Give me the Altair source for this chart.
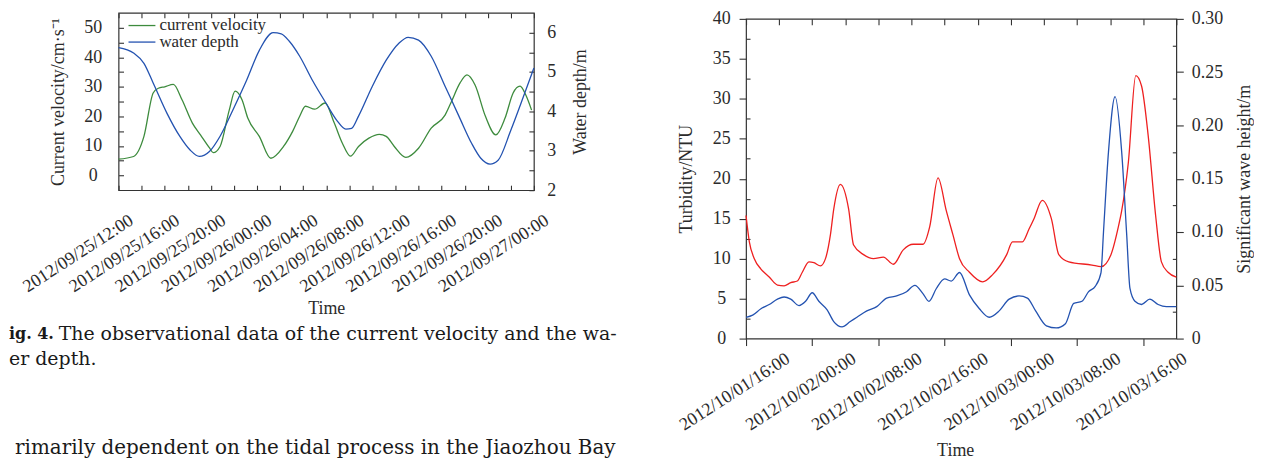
import altair as alt
import pandas as pd

# ---------------- data ----------------
# Left figure: hours after 2012/09/25 12:00
cv_hours = [0, 1.3, 2.2, 3.0, 3.45, 4.0, 4.75, 5.5, 6.4, 7.1, 7.9, 8.2, 8.8, 9.6, 10.1,
            10.7, 11.2, 12.2, 13.2, 14.3, 15.1, 15.7, 16.2, 17.0, 17.9, 18.7, 19.4, 20.1,
            20.8, 21.7, 22.6, 23.2, 23.9, 24.9, 26.0, 27.1, 28.3, 28.8, 29.6, 30.2, 30.9,
            31.8, 32.7, 33.5, 34.2, 34.8, 35.3, 35.8]
cv_values = [5.5, 6.4, 13.2, 27.9, 29.5, 30.0, 30.8, 25.6, 17.7, 13.7, 9.2, 7.7, 9.8,
             22.2, 28.5, 25.6, 19.4, 13.2, 5.8, 9.8, 15.0, 20.0, 23.4, 22.4, 24.5, 17.7,
             10.9, 6.5, 9.8, 12.6, 13.9, 13.2, 9.8, 6.1, 9.2, 16.0, 20.4, 24.5, 31.3,
             34.0, 30.6, 20.0, 13.7, 19.4, 27.9, 30.2, 27.2, 22.1]
wd_hours = [0, 1.3, 2.2, 3.0, 4.2, 5.3, 6.2, 7.0, 7.9, 8.8, 9.9, 11.1, 12.2, 13.4, 14.1,
            14.8, 15.7, 16.8, 18.0, 18.9, 19.7, 20.2, 20.8, 22.0, 23.2, 24.3, 25.1, 26.0,
            27.1, 28.3, 29.5, 30.6, 31.4, 32.2, 32.9, 34.0, 35.2, 36.0]
wd_values = [5.62, 5.48, 5.22, 4.72, 3.95, 3.37, 3.02, 2.86, 2.99, 3.37, 4.03, 4.79, 5.55,
             6.0, 5.97, 5.78, 5.4, 4.79, 4.2, 3.78, 3.55, 3.57, 3.88, 4.64, 5.3, 5.73, 5.88,
             5.81, 5.4, 4.64, 3.88, 3.19, 2.81, 2.66, 2.76, 3.52, 4.46, 5.1]

# Right figure: hours after 2012/10/01 16:00
turb_hours = [0, 0.4, 1.0, 1.8, 2.8, 3.8, 4.6, 5.4, 6.2, 6.8, 7.6, 8.2, 9.0, 9.6, 10.2,
              10.6, 11.4, 12.4, 13.0, 14.2, 15.4, 16.6, 17.8, 19.0, 20.2, 21.4, 22.2, 23.2,
              24.2, 25.0, 25.8, 27.0, 28.6, 29.8, 31.5, 32.2, 33.4, 34.2, 34.8, 35.8, 36.9,
              37.8, 39.0, 41.8, 42.9, 44.1, 45.0, 45.4, 46.2, 47.1, 47.8, 48.6, 49.5, 50.2,
              51.0, 52.0]
turb_values = [15.4, 12.1, 10.0, 8.7, 7.7, 6.7, 6.6, 7.0, 7.2, 8.3, 9.6, 9.5, 9.1, 10.0,
               13.0, 16.2, 19.3, 16.2, 11.7, 10.5, 10.0, 10.2, 9.3, 11.1, 11.8, 11.8, 14.0,
               20.1, 16.0, 13.0, 10.0, 8.3, 7.1, 8.0, 10.5, 12.1, 12.1, 13.7, 15.0, 17.3,
               15.0, 10.5, 9.6, 9.2, 9.0, 10.5, 14.0, 16.0, 22.0, 32.9, 31.6, 25.4, 15.4,
               9.6, 8.3, 7.7]
wave_hours = [0, 0.8, 1.8, 2.8, 3.8, 4.6, 5.4, 6.4, 7.2, 8.0, 8.8, 9.8, 10.6, 11.6, 12.6,
              13.4, 14.6, 15.8, 17.0, 18.2, 19.4, 20.4, 21.4, 22.1, 23.0, 24.0, 24.8, 25.8,
              27.0, 28.2, 29.4, 30.6, 31.8, 33.0, 34.0, 35.0, 36.3, 37.5, 38.6, 39.6, 40.6,
              41.4, 42.2, 42.9, 43.2, 43.8, 44.6, 45.4, 46.0, 46.4, 47.0, 47.8, 48.8, 49.8,
              50.8, 52.0]
wave_values = [0.020, 0.022, 0.028, 0.032, 0.037, 0.039, 0.037, 0.031, 0.035, 0.043, 0.035,
               0.027, 0.016, 0.011, 0.016, 0.020, 0.026, 0.030, 0.038, 0.040, 0.044, 0.050,
               0.042, 0.035, 0.047, 0.056, 0.054, 0.062, 0.041, 0.028, 0.020, 0.026, 0.037,
               0.040, 0.038, 0.026, 0.012, 0.010, 0.014, 0.033, 0.035, 0.044, 0.049, 0.062,
               0.100, 0.175, 0.227, 0.175, 0.098, 0.047, 0.035, 0.032, 0.037, 0.032, 0.030,
               0.030]

legend_labels = ["current velocity", "water depth"]
caption_bold = ["ig. 4."]
caption_line1 = ["The observational data of the current velocity and the wa-"]
caption_line2 = ["er depth."]
body_line = ["rimarily dependent on the tidal process in the Jiaozhou Bay"]

LEFT_START = "2012-09-25 12:00"
RIGHT_START = "2012-10-01 16:00"

# ---------------- helpers ----------------
def stamps(start, hours):
    s = pd.Timestamp(start)
    return [(s + pd.Timedelta(hours=h)).strftime("%Y-%m-%dT%H:%M:%S") for h in hours]


def dt(start, h):
    t = pd.Timestamp(start) + pd.Timedelta(hours=h)
    return alt.DateTime(year=t.year, month=t.month, date=t.day, hours=t.hour, minutes=t.minute)


def one(col, vals):
    return pd.DataFrame({col: vals})


SERIF = "Liberation Serif"
INK = "#2b2b2b"
FRAME = "#333333"
GREEN = "#3d8b3d"
BLUE = "#2352b0"
RED = "#ee2020"
FS = 18
LABEL_ANGLE = -33
TIN = 5  # inward tick length

cv_df = pd.DataFrame({"time": stamps(LEFT_START, cv_hours), "velocity": cv_values})
wd_df = pd.DataFrame({"time": stamps(LEFT_START, wd_hours), "depth": wd_values})
turb_df = pd.DataFrame({"time": stamps(RIGHT_START, turb_hours), "turbidity": turb_values})
wave_df = pd.DataFrame({"time": stamps(RIGHT_START, wave_hours), "wave": wave_values})

common_axis = dict(labelFont=SERIF, titleFont=SERIF, labelColor=INK, titleColor=INK,
                   labelFontSize=FS, titleFontSize=FS, titleFontWeight="normal",
                   domain=False, tickColor=FRAME, tickWidth=1.1, grid=False)
bare_axis = dict(labels=False, domain=False, grid=False, title=None,
                 tickColor=FRAME, tickWidth=1.1)
frame_view = alt.ViewBackground(stroke=FRAME, strokeWidth=1.2)

# ---------------- left figure ----------------
LW, LH = 417, 178
left_scale = alt.Scale(domain=[dt(LEFT_START, 0), dt(LEFT_START, 36)], nice=False)
left_vals = [dt(LEFT_START, h) for h in range(0, 37, 2)]

green = alt.Chart(cv_df).mark_line(color=GREEN, strokeWidth=1.3, interpolate="monotone").encode(
    x=alt.X("time:T", scale=left_scale, axis=alt.Axis(
        orient="bottom", values=left_vals,
        labelExpr="hours(datum.value) % 4 === 0 ? timeFormat(datum.value, '%Y/%m/%d/%H:%M') : ''",
        labelAngle=LABEL_ANGLE, labelAlign="right", labelBaseline="top",
        labelOffset=8, labelPadding=21, labelOverlap=False, labelFlush=False,
        offset=-TIN, ticks=True, tickSize=TIN,
        title="Time", titleX=LW / 2, titleY=119 + TIN, titleAlign="center", titleBaseline="middle",
        **common_axis)),
    y=alt.Y("velocity:Q", scale=alt.Scale(domain=[-5, 55], nice=False, zero=False), axis=alt.Axis(
        orient="left", values=list(range(0, 51, 5)),
        labelExpr="datum.value % 10 === 0 ? format(datum.value, 'd') : ''",
        offset=-TIN, ticks=True, tickSize=TIN,
        labelAlign="center", labelPadding=26,
        title="Current velocity/cm\u00b7s\u207b\u00b9", titleX=-60 - TIN, titleY=LH / 2,
        titleAngle=270, titleAlign="center", titleBaseline="middle",
        **common_axis)),
)

blue_left = alt.Chart(wd_df).mark_line(color=BLUE, strokeWidth=1.3, interpolate="monotone").encode(
    x=alt.X("time:T", scale=left_scale, axis=alt.Axis(
        orient="top", values=left_vals, offset=-TIN, ticks=True, tickSize=TIN, **bare_axis)),
    y=alt.Y("depth:Q", scale=alt.Scale(domain=[2, 6.5], nice=False, zero=False), axis=alt.Axis(
        orient="right", values=[2 + 0.5 * k for k in range(9)],
        labelExpr="datum.value % 1 === 0 ? format(datum.value, 'd') : ''",
        offset=-TIN, ticks=True, tickSize=TIN,
        labelAlign="left", labelPadding=13,
        title="Water depth/m", titleX=47 + TIN, titleY=LH / 2,
        titleAngle=270, titleAlign="center", titleBaseline="middle",
        **common_axis)),
)

leg_rule_g = alt.Chart(one("t", [legend_labels[0]])).mark_rule(color=GREEN, strokeWidth=1.3).encode(
    x=alt.value(10), x2=alt.value(37), y=alt.value(12.7))
leg_rule_b = alt.Chart(one("t", [legend_labels[1]])).mark_rule(color=BLUE, strokeWidth=1.3).encode(
    x=alt.value(10), x2=alt.value(37), y=alt.value(29.3))
leg_text_g = alt.Chart(one("t", [legend_labels[0]])).mark_text(
    align="left", baseline="middle", font=SERIF, fontSize=17, color=INK).encode(
    x=alt.value(41), y=alt.value(12), text="t:N")
leg_text_b = alt.Chart(one("t", [legend_labels[1]])).mark_text(
    align="left", baseline="middle", font=SERIF, fontSize=17, color=INK).encode(
    x=alt.value(41), y=alt.value(28.8), text="t:N")

CAP_FONT = "DejaVu Serif"
cap_b = alt.Chart(one("t", caption_bold)).mark_text(
    align="left", baseline="middle", font=CAP_FONT, fontSize=16, fontWeight="bold", color="#1a1a1a").encode(
    x=alt.value(-110), y=alt.value(322), text="t:N")
cap_1 = alt.Chart(one("t", caption_line1)).mark_text(
    align="right", baseline="middle", font=CAP_FONT, fontSize=19, color="#1a1a1a").encode(
    x=alt.value(500), y=alt.value(322), text="t:N")
cap_2 = alt.Chart(one("t", caption_line2)).mark_text(
    align="left", baseline="middle", font=CAP_FONT, fontSize=19, color="#1a1a1a").encode(
    x=alt.value(-110), y=alt.value(348), text="t:N")
body = alt.Chart(one("t", body_line)).mark_text(
    align="right", baseline="middle", font=CAP_FONT, fontSize=20, color="#1a1a1a").encode(
    x=alt.value(499), y=alt.value(437), text="t:N")

left = alt.layer(
    green, blue_left, leg_rule_g, leg_rule_b, leg_text_g, leg_text_b, cap_b, cap_1, cap_2, body
).resolve_scale(y="independent").resolve_axis(x="independent", y="independent").properties(
    width=LW, height=LH, view=frame_view)

# ---------------- right figure ----------------
RW, RH = 432, 321
right_scale = alt.Scale(domain=[dt(RIGHT_START, 0), dt(RIGHT_START, 52)], nice=False)
right_vals = [dt(RIGHT_START, h) for h in range(0, 53, 4)]
major8 = "hours(datum.value) % 8 === 0"
turb_scale = alt.Scale(domain=[0, 40], nice=False)
wave_scale = alt.Scale(domain=[0, 0.3], nice=False)
turb_major = [5 * k for k in range(9)]
turb_minor = [2.5 + 5 * k for k in range(8)]
wave_major = [round(0.05 * k, 2) for k in range(7)]
wave_minor = [round(0.025 + 0.05 * k, 3) for k in range(6)]

red = alt.Chart(turb_df).mark_line(color=RED, strokeWidth=1.3, interpolate="monotone").encode(
    x=alt.X("time:T", scale=right_scale, axis=alt.Axis(
        orient="bottom", values=right_vals,
        labelExpr=major8 + " ? timeFormat(datum.value, '%Y/%m/%d/%H:%M') : ''",
        labelAngle=LABEL_ANGLE, labelAlign="right", labelBaseline="top",
        labelOffset=37, labelPadding=4, labelOverlap=False, labelFlush=False,
        ticks=True, tickSize=7,
        tickOpacity={"condition": {"test": major8, "value": 1}, "value": 0},
        title="Time", titleX=210, titleY=112, titleAlign="center", titleBaseline="middle",
        **common_axis)),
    y=alt.Y("turbidity:Q", scale=turb_scale, axis=alt.Axis(
        orient="left", values=turb_major, format="d",
        ticks=True, tickSize=7,
        labelAlign="center", labelPadding=18,
        title="Turbidity/NTU", titleX=-60, titleY=RH / 2,
        titleAngle=270, titleAlign="center", titleBaseline="middle",
        **common_axis)),
)

blue_right = alt.Chart(wave_df).mark_line(color=BLUE, strokeWidth=1.3, interpolate="monotone").encode(
    x=alt.X("time:T", scale=right_scale, axis=alt.Axis(
        orient="top", values=right_vals, offset=-6, ticks=True, tickSize=6, **bare_axis)),
    y=alt.Y("wave:Q", scale=wave_scale, axis=alt.Axis(
        orient="right", values=wave_major,
        labelExpr="datum.value === 0 ? '0' : format(datum.value, '.2f')",
        ticks=True, tickSize=7,
        labelAlign="left", labelPadding=8,
        title="Significant wave height/m", titleX=68, titleY=RH / 2,
        titleAngle=270, titleAlign="center", titleBaseline="middle",
        **common_axis)),
)

# transparent copies that only carry the short inward minor ticks
minor_left = alt.Chart(turb_df).mark_line(opacity=0).encode(
    x=alt.X("time:T", scale=right_scale, axis=None),
    y=alt.Y("turbidity:Q", scale=turb_scale, axis=alt.Axis(
        orient="left", values=turb_minor, offset=-4, ticks=True, tickSize=4, **bare_axis)),
)
minor_right = alt.Chart(wave_df).mark_line(opacity=0).encode(
    x=alt.X("time:T", scale=right_scale, axis=None),
    y=alt.Y("wave:Q", scale=wave_scale, axis=alt.Axis(
        orient="right", values=wave_minor, offset=-4, ticks=True, tickSize=4, **bare_axis)),
)

right = alt.layer(red, blue_right, minor_left, minor_right).resolve_scale(
    y="independent").resolve_axis(x="independent", y="independent").properties(
    width=RW, height=RH, view=frame_view)

# an empty strip above the right figure lowers it against the left one
spacer = alt.Chart(pd.DataFrame({"s": []})).mark_point().properties(
    width=RW, height=1, view=alt.ViewBackground(stroke="transparent"))
right_col = alt.vconcat(spacer, right, spacing=-6)

chart = alt.hconcat(left, right_col, spacing=58).properties(
    padding={"left": 0, "top": 0, "right": 0, "bottom": 0}
)

chart.save("out.html", embed_options={"renderer": "svg", "actions": False})
